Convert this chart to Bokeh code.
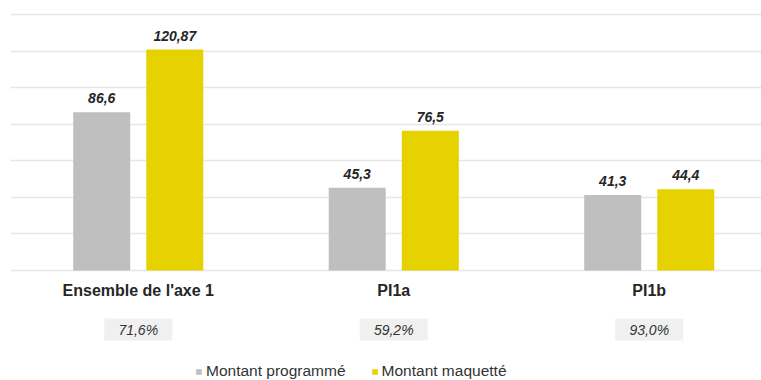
from bokeh.plotting import figure
from bokeh.models import Range1d, FixedTicker, ColumnDataSource, Legend, LegendItem
from bokeh.core.properties import value
from bokeh.embed import file_html
from bokeh.resources import INLINE

# ---- data ----
categories = ["Ensemble de l'axe 1", "PI1a", "PI1b"]
programme = [86.6, 45.3, 41.3]
maquette = [120.87, 76.5, 44.4]
programme_labels = ["86,6", "45,3", "41,3"]
maquette_labels = ["120,87", "76,5", "44,4"]
taux_labels = ["71,6%", "59,2%", "93,0%"]
series_names = ["Montant programmé", "Montant maquetté"]
y_ticks = [0, 20, 40, 60, 80, 100, 120, 140]

# ---- layout ----
W, H = 761, 380
LEFT = 10
PX_PER_UNIT = 1.828          # vertical scale
BASE_PX = 270                # pixel row of value 0
CAT_PX = 255.5               # pixel width of one category
FONT_NAME = "Liberation Sans"
FONT = value(FONT_NAME)

y_top = BASE_PX / PX_PER_UNIT
y_bot = -(H - BASE_PX) / PX_PER_UNIT
x_end = (W - LEFT) / CAT_PX

p = figure(width=W, height=H, output_backend="svg", toolbar_location=None,
           x_range=Range1d(0, x_end), y_range=Range1d(y_bot, y_top),
           min_border_left=LEFT, min_border_right=0, min_border_top=0, min_border_bottom=0)
p.outline_line_color = None
p.xaxis.visible = False
p.yaxis.visible = False
p.xgrid.visible = False
p.ygrid.ticker = FixedTicker(ticks=y_ticks)
p.ygrid.grid_line_color = "#e6e6e6"
p.ygrid.grid_line_width = 1.3
p.background_fill_color = "white"
p.border_fill_color = "white"

xc = [i + 0.5 for i in range(len(categories))]
off = 0.143
bw = 0.223
src = ColumnDataSource(dict(
    xp=[x - off for x in xc], xm=[x + off for x in xc], xc=xc,
    prog=programme, maq=maquette,
    lp=programme_labels, lm=maquette_labels,
    cat=categories, taux=taux_labels,
))

r1 = p.vbar(x="xp", top="prog", bottom=0, width=bw, source=src,
            fill_color="#bfbfbf", line_color=None)
r2 = p.vbar(x="xm", top="maq", bottom=0, width=bw, source=src,
            fill_color="#e6d200", line_color=None)

# value labels
for xs, ys, ts in [("xp", "prog", "lp"), ("xm", "maq", "lm")]:
    p.text(x=xs, y=ys, text=ts, source=src, text_align="center",
           text_baseline="alphabetic", y_offset=-14, text_font=FONT,
           text_font_style="bold italic", text_font_size="14px", text_color="#262626")

# category labels
p.text(x="xc", y=0, text="cat", source=src, text_align="center",
       text_baseline="alphabetic", y_offset=20, text_font=FONT,
       text_font_style="bold", text_font_size="16px", text_color="#262626")

# rate boxes
box_y = -(329 - BASE_PX) / PX_PER_UNIT
p.rect(x="xc", y=box_y, width=68, height=22, width_units="screen",
       height_units="screen", source=src, fill_color="#f0f0f0", line_color=None)
p.text(x="xc", y=box_y, text="taux", source=src, text_align="center",
       text_baseline="middle", text_font=FONT, text_font_style="italic",
       text_font_size="14px", text_color="#333333")

legend = Legend(items=[LegendItem(label=series_names[0], renderers=[r1]),
                       LegendItem(label=series_names[1], renderers=[r2])],
                orientation="horizontal", location=(185, 0),
                glyph_width=7, glyph_height=7, label_standoff=4, spacing=25,
                padding=0, margin=0, border_line_color=None,
                background_fill_alpha=0, label_height=14,
                label_text_font=FONT_NAME, label_text_font_size="15.5px",
                label_text_color="#333333")
p.add_layout(legend, "center")

open("out.html", "w").write(file_html(p, INLINE))
